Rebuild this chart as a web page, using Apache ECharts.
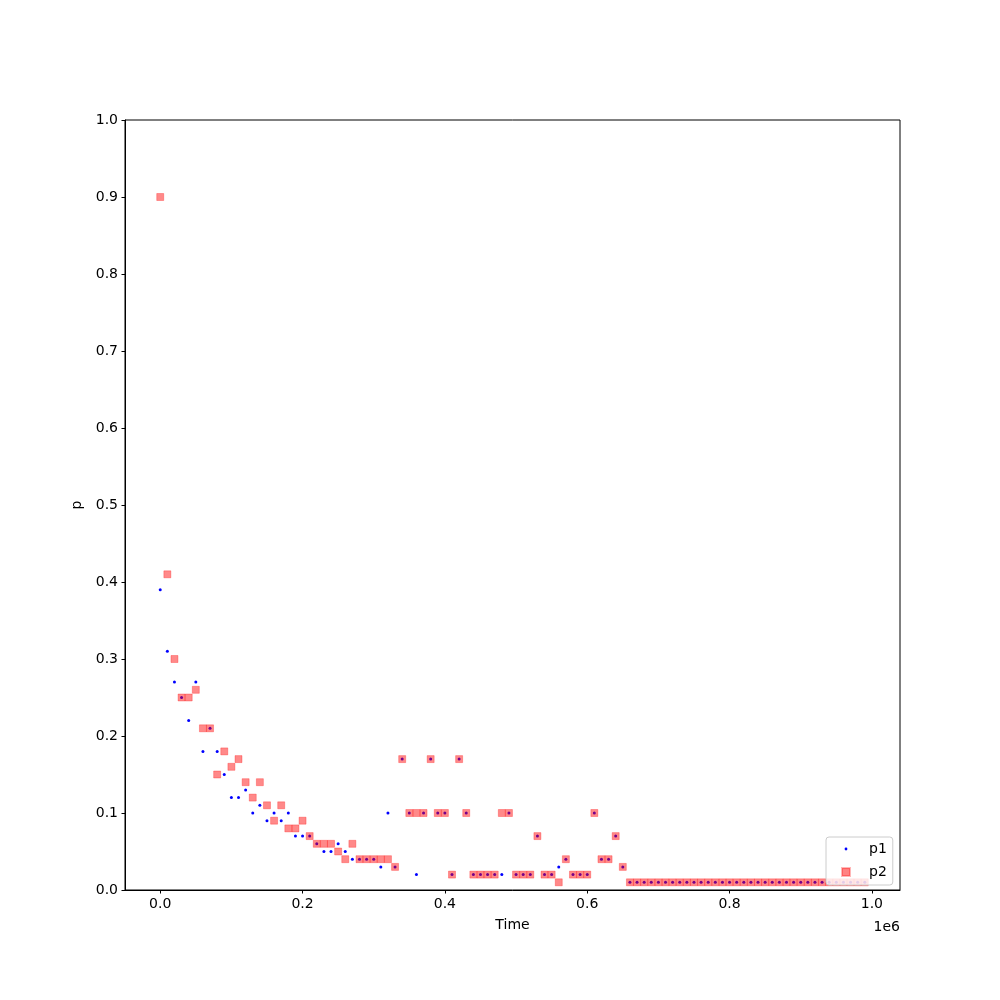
<!DOCTYPE html>
<html>
<head>
<meta charset="utf-8">
<script src="https://cdn.jsdelivr.net/npm/echarts@6/dist/echarts.min.js"></script>
<style>html,body{margin:0;padding:0;background:#fff}#c{width:1000px;height:1000px}</style>
</head>
<body>
<div id="c"></div>
<script>
var times = [0,10000,20000,30000,40000,50000,60000,70000,80000,90000,
100000,110000,120000,130000,140000,150000,160000,170000,180000,190000,
200000,210000,220000,230000,240000,250000,260000,270000,280000,290000,
300000,310000,320000,330000,340000,350000,360000,370000,380000,390000,
400000,410000,420000,430000,440000,450000,460000,470000,480000,490000,
500000,510000,520000,530000,540000,550000,560000,570000,580000,590000,
600000,610000,620000,630000,640000,650000,660000,670000,680000,690000,
700000,710000,720000,730000,740000,750000,760000,770000,780000,790000,
800000,810000,820000,830000,840000,850000,860000,870000,880000,890000,
900000,910000,920000,930000,940000,950000,960000,970000,980000,990000];
var p1 = [0.39,0.31,0.27,0.25,0.22,0.27,0.18,0.21,0.18,0.15,
0.12,0.12,0.13,0.10,0.11,0.09,0.10,0.09,0.10,0.07,
0.07,0.07,0.06,0.05,0.05,0.06,0.05,0.04,0.04,0.04,
0.04,0.03,0.10,0.03,0.17,0.10,0.02,0.10,0.17,0.10,
0.10,0.02,0.17,0.10,0.02,0.02,0.02,0.02,0.02,0.10,
0.02,0.02,0.02,0.07,0.02,0.02,0.03,0.04,0.02,0.02,
0.02,0.10,0.04,0.04,0.07,0.03,0.01,0.01,0.01,0.01,
0.01,0.01,0.01,0.01,0.01,0.01,0.01,0.01,0.01,0.01,
0.01,0.01,0.01,0.01,0.01,0.01,0.01,0.01,0.01,0.01,
0.01,0.01,0.01,0.01,0.01,0.01,0.01,0.01,0.01,0.01];
var p2 = [0.90,0.41,0.30,0.25,0.25,0.26,0.21,0.21,0.15,0.18,
0.16,0.17,0.14,0.12,0.14,0.11,0.09,0.11,0.08,0.08,
0.09,0.07,0.06,0.06,0.06,0.05,0.04,0.06,0.04,0.04,
0.04,0.04,0.04,0.03,0.17,0.10,0.10,0.10,0.17,0.10,
0.10,0.02,0.17,0.10,0.02,0.02,0.02,0.02,0.10,0.10,
0.02,0.02,0.02,0.07,0.02,0.02,0.01,0.04,0.02,0.02,
0.02,0.10,0.04,0.04,0.07,0.03,0.01,0.01,0.01,0.01,
0.01,0.01,0.01,0.01,0.01,0.01,0.01,0.01,0.01,0.01,
0.01,0.01,0.01,0.01,0.01,0.01,0.01,0.01,0.01,0.01,
0.01,0.01,0.01,0.01,0.01,0.01,0.01,0.01,0.01,0.01];
var xTicks = [0,200000,400000,600000,800000,1000000];
var seriesNames = ['p1','p2'];
var xName = 'Time', yName = 'p', offsetText = '1e6';

function pairs(xs, ys){ return xs.map(function(x,i){ return [x, ys[i]]; }); }

var font = 'DejaVu Sans';
var chart = echarts.init(document.getElementById('c'), null, {renderer:'canvas'});
chart.setOption({
  animation:false,
  backgroundColor:'#fff',
  grid:{left:125, right:100, top:120, bottom:110, show:true, borderColor:'#000', borderWidth:1, backgroundColor:'transparent'},
  xAxis:{
    type:'value', min:-49500, max:1039500,
    name:xName, nameLocation:'middle', nameGap:28,
    nameTextStyle:{fontFamily:font, fontSize:14, color:'#000'},
    axisLine:{show:true, onZero:false, lineStyle:{color:'#000', width:1}},
    axisTick:{show:true, inside:false, length:3.5, customValues:xTicks, lineStyle:{color:'#000'}},
    axisLabel:{show:true, margin:7, customValues:xTicks, fontFamily:font, fontSize:14, color:'#000',
      formatter:function(v){ return (v/1e6).toFixed(1); }},
    splitLine:{show:false}
  },
  yAxis:{
    type:'value', min:0, max:1, interval:0.1,
    name:yName, nameLocation:'middle', nameGap:38, nameRotate:90,
    nameTextStyle:{fontFamily:font, fontSize:14, color:'#000'},
    axisLine:{show:true, onZero:false, lineStyle:{color:'#000', width:1}},
    axisTick:{show:true, inside:false, length:3.5, lineStyle:{color:'#000'}},
    axisLabel:{show:true, margin:7, fontFamily:font, fontSize:14, color:'#000',
      formatter:function(v){ return v.toFixed(1); }},
    splitLine:{show:false}
  },
  legend:{
    left:826, top:837, orient:'vertical',
    padding:[5,6,5,1], itemGap:8, itemWidth:36, itemHeight:14,
    backgroundColor:'rgba(255,255,255,0.8)', borderColor:'#cccccc', borderWidth:1, borderRadius:3,
    textStyle:{fontFamily:font, fontSize:14, color:'#000'},
    data:[
      {name:seriesNames[0], icon:'path://M0,0 M36,14 M16.6,7 a1.4,1.4 0 1,0 2.8,0 a1.4,1.4 0 1,0 -2.8,0z', itemStyle:{color:'#0000ff'}},
      {name:seriesNames[1], icon:'path://M0,0 M36,14 M14,3 h8 v8 h-8z', itemStyle:{color:'rgba(255,0,0,0.62)'}}
    ]
  },
  graphic:[{type:'text', right:100, top:920, style:{text:offsetText, font:'14px "DejaVu Sans"', fill:'#000', textAlign:'right'}}],
  series:[
    {name:seriesNames[0], type:'scatter', data:pairs(times,p1), symbol:'circle', symbolSize:3,
      itemStyle:{color:'#0000ff', opacity:1}, silent:true},
    {name:seriesNames[1], type:'scatter', data:pairs(times,p2), symbol:'rect', symbolSize:7,
      itemStyle:{color:'rgba(255,0,0,0.58)', borderColor:'rgba(255,0,0,0.35)', borderWidth:1}, silent:true}
  ]
});
</script>
</body>
</html>
